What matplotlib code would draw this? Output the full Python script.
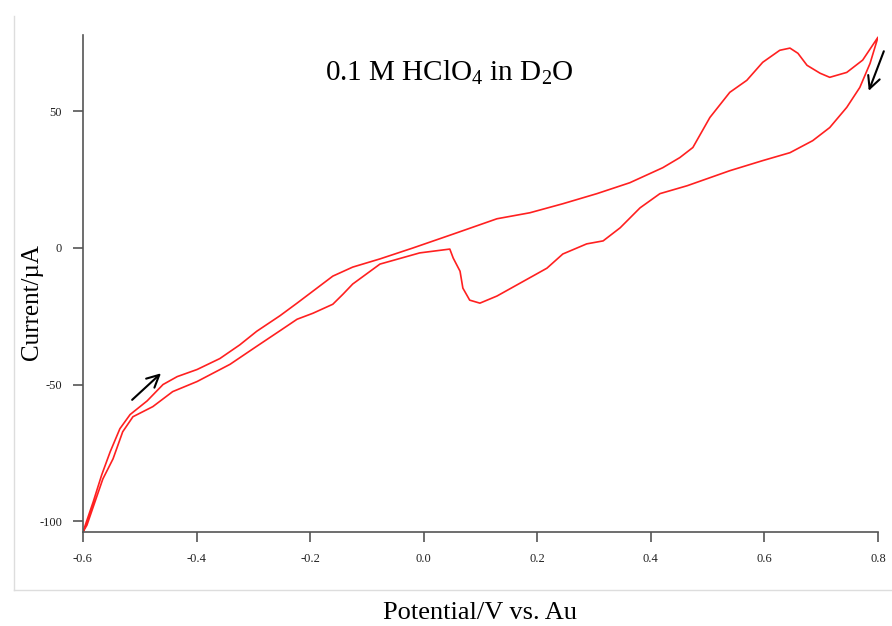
import matplotlib
matplotlib.use("Agg")
import matplotlib.pyplot as plt
from matplotlib.lines import Line2D

plt.rcParams['font.family'] = ['Liberation Serif', 'DejaVu Serif']
plt.rcParams['mathtext.fontset'] = 'custom'
plt.rcParams['mathtext.rm'] = 'Liberation Serif'
plt.rcParams['mathtext.default'] = 'rm'

# Forward (anodic) scan, -0.6 V -> 0.8 V
fwd_v = [-0.600, -0.582, -0.567, -0.552, -0.535, -0.517, -0.487, -0.459, -0.434,
         -0.399, -0.359, -0.324, -0.294, -0.253, -0.223, -0.195, -0.160, -0.125,
         -0.077, -0.019, 0.052, 0.129, 0.187, 0.245, 0.305, 0.363, 0.421, 0.451,
         0.474, 0.504, 0.539, 0.569, 0.597, 0.627, 0.645, 0.659, 0.675, 0.698,
         0.715, 0.745, 0.773, 0.800]
fwd_i = [-104.0, -93.0, -83.1, -74.6, -66.2, -61.0, -56.0, -50.0, -47.1,
         -44.5, -40.5, -35.5, -30.5, -24.8, -20.2, -15.8, -10.3, -7.0,
         -4.0, 0.0, 5.1, 10.7, 12.9, 16.2, 19.9, 23.9, 29.4, 33.1,
         36.8, 47.8, 57.0, 61.4, 68.0, 72.4, 73.2, 71.3, 66.9, 64.0,
         62.5, 64.3, 68.8, 77.2]

# Reverse (cathodic) scan, 0.8 V -> -0.6 V
rev_v = [0.786, 0.768, 0.745, 0.715, 0.685, 0.645, 0.597, 0.539, 0.464, 0.416,
         0.381, 0.346, 0.316, 0.287, 0.245, 0.217, 0.192, 0.129, 0.099, 0.081,
         0.069, 0.064, 0.052, 0.046, -0.007, -0.077, -0.125, -0.142, -0.160,
         -0.195, -0.223, -0.253, -0.294, -0.341, -0.399, -0.442, -0.477,
         -0.512, -0.530, -0.547, -0.565, -0.593, -0.600]
rev_i = [67.6, 58.8, 51.5, 44.1, 39.3, 34.9, 32.0, 28.3, 22.8, 19.9,
         14.7, 7.4, 2.6, 1.5, -2.2, -7.4, -10.3, -17.6, -20.2, -19.1,
         -14.7, -8.5, -3.7, -0.4, -1.8, -5.9, -13.2, -16.9, -20.6,
         -23.9, -26.1, -30.3, -36.0, -42.6, -48.9, -52.6, -58.1,
         -61.8, -67.3, -77.2, -84.6, -101.5, -104.0]

xticks = [-0.6, -0.4, -0.2, 0.0, 0.2, 0.4, 0.6, 0.8]
xticklabels = ['-0.6', '-0.4', '-0.2', '0.0', '0.2', '0.4', '0.6', '0.8']
yticks = [-100, -50, 0, 50]
yticklabels = ['-100', '-50', '0', '50']

fig = plt.figure(figsize=(8.92, 6.26), dpi=100)
ax = fig.add_axes([0.0930, 0.1502, 0.8913, 0.7939])

ax.plot(fwd_v + rev_v, fwd_i + rev_i, color='#ff2020', lw=1.2,
        solid_joinstyle='round')

ax.set_xlim(-0.6, 0.8)
ax.set_ylim(-104, 78)
ax.set_xticks(xticks)
ax.set_xticklabels(xticklabels)
ax.set_yticks(yticks)
ax.set_yticklabels(yticklabels)
for s in ['top', 'right']:
    ax.spines[s].set_visible(False)
for s in ['left', 'bottom']:
    ax.spines[s].set_color('#555555')
    ax.spines[s].set_linewidth(1.2)
ax.tick_params(axis='both', colors='#555555', labelcolor='#222222',
               labelsize=9, length=7, width=1.2, direction='out', pad=8)

ax.set_xlabel('Potential/V vs. Au', fontsize=19, labelpad=27)
ax.set_ylabel('Current/µA', fontsize=18)
ax.yaxis.set_label_coords(-0.050, 0.463)

ax.text(0.046, 64.3, '0.1 M HClO$_4$ in D$_2$O', fontsize=21,
        ha='center', va='center')

ax.annotate('', xy=(-0.459, -45.2), xytext=(-0.517, -56.3),
            arrowprops=dict(arrowstyle='->', color='black', lw=1.5,
                            mutation_scale=22), annotation_clip=False)
ax.annotate('', xy=(0.782, 56.6), xytext=(0.812, 73.0),
            arrowprops=dict(arrowstyle='->', color='black', lw=1.5,
                            mutation_scale=22), annotation_clip=False)

# light frame lines of the original panel
fig.add_artist(Line2D([14/892, 14/892], [1-16/626, 1-590/626],
                      color='#dddddd', lw=1))
fig.add_artist(Line2D([14/892, 1.0], [1-590/626, 1-590/626],
                      color='#dddddd', lw=1))

fig.savefig('out.png', dpi=100)
